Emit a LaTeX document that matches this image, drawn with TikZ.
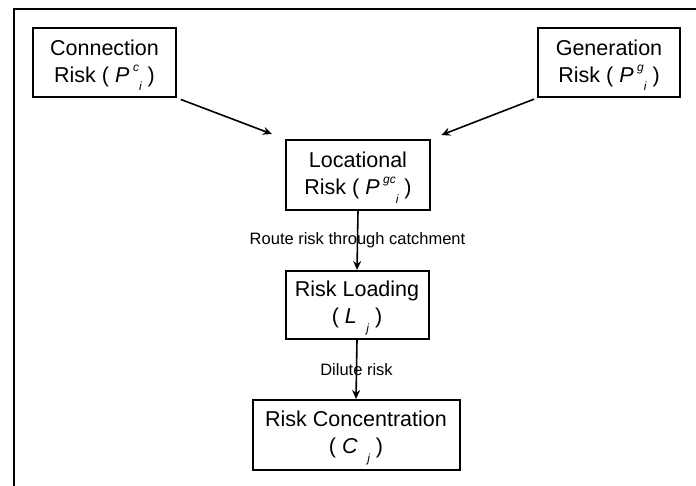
\documentclass[tikz,border=0pt]{standalone}
\usepackage{fontspec}
\setmainfont{Liberation Sans}
\usetikzlibrary{arrows.meta}
\newcommand\supsub[2]{\,\raisebox{0.5em}{\fontsize{12}{12}\selectfont\itshape #1}\raisebox{-0.4em}{\fontsize{12}{12}\selectfont\itshape #2}}
\newcommand\topstrut{\rule{0pt}{21pt}}
\tikzset{
  riskbox/.style={draw, line width=2pt, align=center, inner sep=0pt,
    font=\fontsize{21.5}{27}\selectfont},
  flow/.style={line width=1.6pt, -{Stealth[length=9pt,width=8pt]}},
  flowlabel/.style={font=\fontsize{16.5}{18}\selectfont, inner sep=0pt}
}
\begin{document}
\begin{tikzpicture}[x=1pt,y=-1pt]
\useasboundingbox (0,0) rectangle (696,486);
\draw[line width=2pt] (14,500) -- (14,9) -- (710,9);
\node[riskbox, minimum width=143pt, minimum height=69pt] (conn) at (104.5,62.5)
  {\topstrut Connection\\Risk ( \textit{P}\supsub{c}{i} )};
\node[riskbox, minimum width=142pt, minimum height=69pt] (gen) at (609,62.5)
  {\topstrut Generation\\Risk ( \textit{P}\supsub{g}{i} )};
\node[riskbox, minimum width=144pt, minimum height=70pt] (loc) at (358,175)
  {\topstrut Locational\\Risk ( \textit{P}\supsub{gc}{i} )};
\node[riskbox, minimum width=143pt, minimum height=68pt] (load) at (357,305)
  {\topstrut Risk Loading\\( \textit{L}\supsub{\phantom{c}}{j} )};
\node[riskbox, minimum width=207pt, minimum height=70pt] (conc) at (356,435)
  {\topstrut Risk Concentration\\( \textit{C}\supsub{\phantom{c}}{j} )};
\draw[flow, shorten <=4pt, shorten >=14pt] (conn.south east) -- (loc.north west);
\draw[flow, shorten <=3pt, shorten >=11pt] (gen.south west) -- (loc.north east);
\draw[flow] (loc.south) -- node[flowlabel] (l1) {Route risk through catchment} (load.north);
\draw[flow] (load.south) -- node[flowlabel] (l2) {Dilute risk} (conc.north);
\end{tikzpicture}
\end{document}
